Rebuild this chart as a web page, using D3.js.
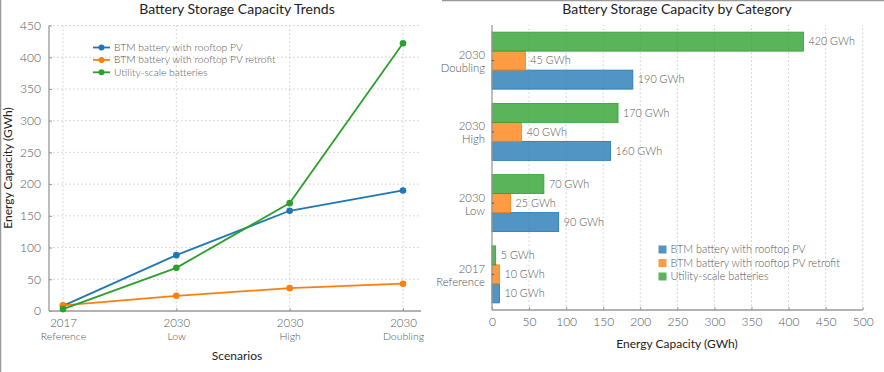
<!DOCTYPE html>
<html><head><meta charset="utf-8">
<script src="https://cdn.jsdelivr.net/npm/d3@7"></script>
<style>
body{margin:0;background:#fff;}
svg{display:block;font-family:Lato,"Open Sans",sans-serif;}
svg text{font-family:Lato,"Open Sans",sans-serif;}
.lt{font-weight:300;}
</style></head>
<body>
<svg id="c" width="884" height="372"></svg>
<script>
const scenarios = ["2017\nReference", "2030\nLow", "2030\nHigh", "2030\nDoubling"];
const seriesNames = ["BTM battery with rooftop PV", "BTM battery with rooftop PV retrofit", "Utility-scale batteries"];
const lineBTM = [8, 88, 158, 190];
const lineRetrofit = [9, 24, 36, 43];
const lineUtility = [3, 68, 170, 422];
const barBTM = [10, 90, 160, 190];
const barRetrofit = [10, 25, 40, 45];
const barUtility = [5, 70, 170, 420];
const yTicksLeft = [0, 50, 100, 150, 200, 250, 300, 350, 400, 450];
const xTicksRight = [0, 50, 100, 150, 200, 250, 300, 350, 400, 450, 500];
const colors = ["#1f77b4", "#ff7f0e", "#2ca02c"];

const svg = d3.select("#c");
const txt = "#222", tick = "#555", axisC = "#999", gridC = "#ccc";
const FF = "Lato,'Open Sans',sans-serif";

// border artifacts
svg.append("line").attr("x1",0.5).attr("x2",0.5).attr("y1",0).attr("y2",372).attr("stroke","#999").attr("stroke-width",1.5);
svg.append("line").attr("x1",442).attr("x2",884).attr("y1",0.5).attr("y2",0.5).attr("stroke","#999").attr("stroke-width",1.5);

// ---------- LEFT: line chart ----------
const L = {x0:49, x1:421, y0:311, y1:25.5};
const xL = d3.scalePoint().domain(scenarios).range([63, 403]);
const yL = d3.scaleLinear().domain([0,450]).range([L.y0, L.y1]);
const gl = svg.append("g");

gl.selectAll(".hg").data(yTicksLeft.filter(d=>d>0)).join("line")
  .attr("x1",L.x0).attr("x2",L.x1).attr("y1",d=>yL(d)).attr("y2",d=>yL(d))
  .attr("stroke",gridC).attr("stroke-dasharray","1.5,2.5");
gl.selectAll(".vg").data(scenarios).join("line")
  .attr("x1",d=>xL(d)).attr("x2",d=>xL(d)).attr("y1",L.y0).attr("y2",L.y1)
  .attr("stroke",gridC).attr("stroke-dasharray","1.5,2.5");

const yAxL = gl.append("g").attr("transform",`translate(${L.x0},0)`)
  .call(d3.axisLeft(yL).tickValues(yTicksLeft).tickSize(-3).tickPadding(8));
const xAxL = gl.append("g").attr("transform",`translate(0,${L.y0})`)
  .call(d3.axisBottom(xL).tickSize(-3).tickPadding(6).tickFormat(""));
[yAxL,xAxL].forEach(a=>{a.attr("font-family",FF);
  a.select(".domain").attr("stroke",axisC).attr("stroke-width",1.3);
  a.selectAll(".tick line").attr("stroke",axisC);
  a.selectAll("text").attr("fill",tick).attr("class","lt").style("font-size","12px");});
xAxL.select(".domain").attr("d",`M${L.x0},0H${L.x1}`);
yAxL.select(".domain").attr("d",`M0,${L.y0}V${L.y1}`);

xAxL.selectAll(".tick").each(function(d){
  const parts = d.split("\n");
  const g = d3.select(this);
  g.append("text").attr("fill",tick).attr("text-anchor","middle").attr("class","lt")
    .attr("x",0).attr("y",15.5).style("font-size","11.5px").text(parts[0]);
  g.append("text").attr("fill",tick).attr("text-anchor","middle").attr("class","lt")
    .attr("x",0).attr("y",28.5).style("font-size","10.5px").text(parts[1]);
});

const lineSeries = [lineBTM, lineRetrofit, lineUtility];
const lineGen = d3.line().x((d,i)=>xL(scenarios[i])).y(d=>yL(d));
lineSeries.forEach((s,k)=>{
  gl.append("path").datum(s).attr("d",lineGen).attr("fill","none")
    .attr("stroke",colors[k]).attr("stroke-width",1.8);
});
lineSeries.forEach((s,k)=>{
  gl.selectAll(".pt"+k).data(s).join("circle")
    .attr("cx",(d,i)=>xL(scenarios[i])).attr("cy",d=>yL(d)).attr("r",3.3).attr("fill",colors[k]);
});

gl.append("text").attr("x",237).attr("y",14).attr("text-anchor","middle").attr("fill",txt)
  .style("font-size","14px").text("Battery Storage Capacity Trends");
gl.append("text").attr("transform","translate(12,168) rotate(-90)").attr("text-anchor","middle")
  .attr("fill",txt).style("font-size","12px").text("Energy Capacity (GWh)");
gl.append("text").attr("x",237).attr("y",360).attr("text-anchor","middle").attr("fill",txt)
  .style("font-size","12px").text("Scenarios");

const legL = gl.append("g");
seriesNames.forEach((n,k)=>{
  const y = 47.5 + k*12.4;
  legL.append("line").attr("x1",93).attr("x2",110).attr("y1",y).attr("y2",y).attr("stroke",colors[k]).attr("stroke-width",1.8);
  legL.append("circle").attr("cx",101.5).attr("cy",y).attr("r",3).attr("fill",colors[k]);
  legL.append("text").attr("x",114).attr("y",y+3.5).attr("fill",tick).attr("class","lt").style("font-size","10.3px").text(n);
});

// ---------- RIGHT: bar chart ----------
const R = {x0:492, x1:862.7, y0:310, y1:25};
const order = [...scenarios].reverse();
const xR = d3.scaleLinear().domain([0,500]).range([R.x0, R.x1]);
const yR = d3.scaleBand().domain(order).range([R.y1, R.y0]).paddingInner(0.2).paddingOuter(0.1);
const inner = d3.scaleBand().domain([2,1,0]).range([0, yR.bandwidth()]);
const gr = svg.append("g");

gr.selectAll(".vg").data(xTicksRight.filter(d=>d>0)).join("line")
  .attr("x1",d=>xR(d)).attr("x2",d=>xR(d)).attr("y1",R.y0).attr("y2",R.y1)
  .attr("stroke",gridC).attr("stroke-dasharray","1.5,2.5");

const barSeries = [barBTM, barRetrofit, barUtility];
barSeries.forEach((s,k)=>{
  const g = gr.append("g");
  g.selectAll("rect").data(s).join("rect")
    .attr("x",xR(0)).attr("y",(d,i)=>yR(scenarios[i])+inner(k))
    .attr("width",d=>xR(d)-xR(0)).attr("height",inner.bandwidth())
    .attr("fill",colors[k]).attr("fill-opacity",0.78).attr("stroke",colors[k]).attr("stroke-width",0.8);
  g.selectAll("text").data(s).join("text")
    .attr("x",d=>xR(d)+5).attr("y",(d,i)=>yR(scenarios[i])+inner(k)+inner.bandwidth()/2+3.7)
    .attr("fill",tick).attr("class","lt").style("font-size","10.8px").text(d=>d+" GWh");
});

const xAxR = gr.append("g").attr("transform",`translate(0,${R.y0})`)
  .call(d3.axisBottom(xR).tickValues(xTicksRight).tickSize(-3).tickPadding(7));
const yAxR = gr.append("g").attr("transform",`translate(${R.x0},0)`)
  .call(d3.axisLeft(yR).tickSize(-2).tickPadding(7).tickFormat(""));
[xAxR,yAxR].forEach(a=>{a.attr("font-family",FF);
  a.select(".domain").attr("stroke",axisC).attr("stroke-width",1.3);
  a.selectAll(".tick line").attr("stroke",axisC);
  a.selectAll("text").attr("fill",tick).attr("class","lt").style("font-size","12px");});
xAxR.select(".domain").attr("d",`M${R.x0},0H${R.x1}`);
yAxR.select(".domain").attr("d",`M0,${R.y0}V${R.y1}`);
yAxR.selectAll(".tick line").attr("stroke","#555");
yAxR.selectAll(".tick").each(function(d){
  const parts = d.split("\n");
  const g = d3.select(this);
  g.append("text").attr("fill",tick).attr("text-anchor","end").attr("class","lt")
    .attr("x",-7).attr("y",-1.5).style("font-size","11.3px").text(parts[0]);
  g.append("text").attr("fill",tick).attr("text-anchor","end").attr("class","lt")
    .attr("x",-7).attr("y",11.5).style("font-size","11.3px").text(parts[1]);
});

gr.append("text").attr("x",677).attr("y",14).attr("text-anchor","middle").attr("fill",txt)
  .style("font-size","14px").text("Battery Storage Capacity by Category");
gr.append("text").attr("x",677).attr("y",348).attr("text-anchor","middle").attr("fill",txt)
  .style("font-size","12px").text("Energy Capacity (GWh)");

const legR = gr.append("g");
seriesNames.forEach((n,k)=>{
  const y = 249.5 + k*13.5;
  legR.append("rect").attr("x",658.5).attr("y",y-4).attr("width",8).attr("height",8)
    .attr("fill",colors[k]).attr("fill-opacity",0.78);
  legR.append("text").attr("x",670.5).attr("y",y+3.5).attr("fill",tick).attr("class","lt").style("font-size","10.8px").text(n);
});
</script>
</body></html>
